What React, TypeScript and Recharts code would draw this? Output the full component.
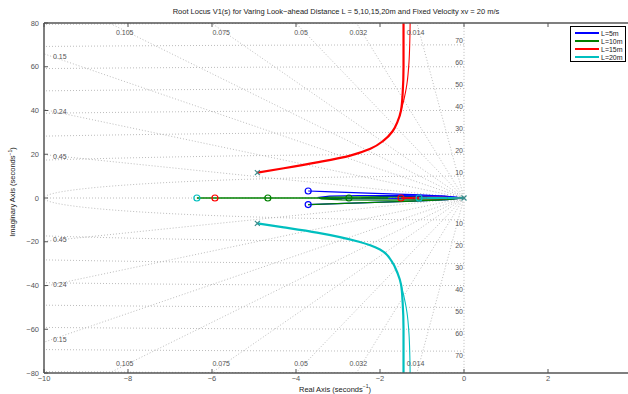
import { ComposedChart, Line, Scatter, XAxis, YAxis } from "recharts";

// ── Axes ────────────────────────────────────────────────────────────────────
const xTicks = [-10, -8, -6, -4, -2, 0, 2];
const yTicks = [-80, -60, -40, -20, 0, 20, 40, 60, 80];

// ── sgrid values ────────────────────────────────────────────────────────────
const zetas = [0.014, 0.032, 0.05, 0.075, 0.105, 0.15, 0.24, 0.45];
const topZetaLabels = [0.014, 0.032, 0.05, 0.075, 0.105];
const sideZetaLabels = [0.15, 0.24, 0.45];
const wns = [10, 20, 30, 40, 50, 60, 70, 80];
const wnLabels = [10, 20, 30, 40, 50, 60, 70];

// ── Root locus branches [re, im] ───────────────────────────────────────────
const redUpper = [[-4.92, 11.6], [-4.29, 13.6], [-3.5, 16.3], [-2.71, 19.4], [-2.23, 22.5], [-1.91, 26.3], [-1.7, 30.5], [-1.58, 35], [-1.5, 40], [-1.46, 48], [-1.44, 60], [-1.44, 85]];
const redUpperB = [[-1.5, 40], [-1.43, 45], [-1.36, 52], [-1.31, 62], [-1.29, 72], [-1.28, 85]];
const cyanLower = [[-1.44, -85], [-1.44, -60], [-1.46, -48], [-1.5, -39.5], [-1.58, -34.5], [-1.72, -29], [-2.0, -23.5], [-2.5, -20], [-3.5, -15.8], [-4.29, -13.4], [-4.92, -11.6]];
const cyanLowerB = [[-1.28, -85], [-1.29, -72], [-1.31, -62], [-1.36, -52], [-1.43, -45], [-1.5, -39.5]];
const blueUpper = [[-3.71, 3.2], [-3.3, 2.9], [-2.3, 2.2], [-1.04, 1.45], [-0.4, 0.8], [0, 0]];
const blueLower = [[-3.71, -3.0], [-3.2, -2.7], [-2.3, -2.1], [-1.2, -1.4], [-0.4, -0.7], [0, 0]];
const blueLoop = [[0, 0], [-0.5, 0.9], [-1.5, 1.15], [-2.5, 1.15], [-3.2, 0.9], [-3.45, 0.3], [-3.4, -0.2], [-2.5, -0.35], [-1.2, -0.3], [0, 0]];
const blueInner = [[-2.45, 0], [-2.0, 0.6], [-1.0, 0.6], [0, 0]];
const greenLower = [[-3.71, -3.0], [-3.2, -2.7], [-2.3, -2.1], [-1.2, -1.4], [-0.4, -0.7], [0, 0]];
const greenLoop = [[0, 0], [-0.6, -0.7], [-1.8, -0.95], [-2.9, -0.85], [-3.4, -0.4], [-3.45, 0], [-3.2, 0.4], [-2.2, 0.5], [-1.0, 0.35], [0, 0]];
const greenReal = [[-6.36, 0], [-1.8, 0]];
const redLoop = [[0, 0], [-0.5, 0.35], [-1.2, 0.3], [-1.5, 0], [-1.2, -0.3], [-0.5, -0.35], [0, 0]];
const cyanLoop = [[0, 0], [-0.4, 0.25], [-0.9, 0.2], [-1.07, 0], [-0.9, -0.2], [-0.4, -0.25], [0, 0]];

// ── Zeros and poles ─────────────────────────────────────────────────────────
const blueZeros = [[-3.71, 3.2], [-3.71, -3.0]];
const greenZeros = [[-4.67, 0], [-2.74, 0]];
const redZeros = [[-5.93, 0], [-1.5, 0]];
const cyanZeros = [[-6.36, 0], [-1.07, 0]];
const poles = [[-4.92, 11.6], [-4.92, -11.6], [0, 0]];

const legendItems = [
  { name: "L=5m", color: "#0000ff" },
  { name: "L=10m", color: "#008000" },
  { name: "L=15m", color: "#ff0000" },
  { name: "L=20m", color: "#00bfbf" },
];

const pts = (arr: number[][]) => arr.map(([x, y]) => ({ x, y }));
const minus = (v: number) => (v < 0 ? `\u2212${Math.abs(v)}` : `${v}`);

// ── Grid geometry built from zeta / wn ─────────────────────────────────────
const R = 140;
const rays = zetas.map((z) => {
  const s = Math.sqrt(1 - z * z);
  return [{ x: -R * z, y: R * s }, { x: 0, y: 0 }, { x: -R * z, y: -R * s }];
});
rays.push([{ x: 0, y: -90 }, { x: 0, y: 90 }]);
rays.push([{ x: -12, y: 0 }, { x: 0, y: 0 }]);

const arcs: { x: number; y: number }[][] = [];
wns.forEach((wn) => {
  const aMax = wn <= 10.5 ? Math.PI / 2 : Math.asin(10.5 / wn);
  [1, -1].forEach((sign) => {
    const a: { x: number; y: number }[] = [];
    for (let i = 0; i <= 40; i++) {
      const t = (aMax * i) / 40;
      a.push({ x: -wn * Math.sin(t), y: sign * wn * Math.cos(t) });
    }
    arcs.push(a);
  });
});

const topLabelY = 75.6;
const zetaLabels = [
  ...topZetaLabels.flatMap((z) => {
    const x = (-topLabelY * z) / Math.sqrt(1 - z * z);
    return [
      { x, y: topLabelY, t: `${z}`, kind: "top" },
      { x, y: -topLabelY, t: `${z}`, kind: "top" },
    ];
  }),
  ...sideZetaLabels.flatMap((z) => {
    const y = (10 * Math.sqrt(1 - z * z)) / z;
    return [
      { x: -10, y: y - 1, t: `${z}`, kind: "side" },
      { x: -10, y: -y + 1, t: `${z}`, kind: "side" },
    ];
  }),
  ...wnLabels.flatMap((w) => [
    { x: 0, y: w, t: `${w}`, kind: "wnUp" },
    { x: 0, y: -w, t: `${w}`, kind: "wnDown" },
  ]),
];

const FONT = "'Liberation Sans', Arial, Helvetica, sans-serif";
const GRID = "#b4b4b4";
const AXIS = "#555";

// ── Custom shapes ───────────────────────────────────────────────────────────
const ZeroMark = (color: string) => (p: any) => (
  <circle cx={p.cx} cy={p.cy} r={3} fill="none" stroke={color} strokeWidth={1.2} />
);
const PoleMark = (p: any) => (
  <g stroke="#3a8c8c" strokeWidth={1.2}>
    <line x1={p.cx - 2.5} y1={p.cy - 2.5} x2={p.cx + 2.5} y2={p.cy + 2.5} />
    <line x1={p.cx - 2.5} y1={p.cy + 2.5} x2={p.cx + 2.5} y2={p.cy - 2.5} />
  </g>
);
const GridLabel = (p: any) => {
  const d = p.payload;
  const common = { fontSize: 7, fill: "#555", fontFamily: FONT };
  if (d.kind === "top")
    return <text x={p.cx - 4} y={p.cy} textAnchor="middle" dominantBaseline="central" {...common}>{d.t}</text>;
  if (d.kind === "side")
    return <text x={p.cx + 9} y={p.cy} textAnchor="start" dominantBaseline="central" {...common}>{d.t}</text>;
  if (d.kind === "wnUp")
    return <text x={p.cx - 1} y={p.cy - 4} textAnchor="end" dominantBaseline="central" {...common}>{d.t}</text>;
  return <text x={p.cx - 1} y={p.cy + 4} textAnchor="end" dominantBaseline="central" {...common}>{d.t}</text>;
};

const BottomTick = (p: any) => (
  <g>
    <line x1={p.x} x2={p.x} y1={p.y} y2={p.y - 4} stroke={AXIS} strokeWidth={1} />
    <text x={p.x} y={p.y + 5} textAnchor="middle" dominantBaseline="central" fontSize={7.5} fill="#555" fontFamily={FONT}>
      {minus(p.payload.value)}
    </text>
  </g>
);
const TopTick = (p: any) => (
  <line x1={p.x} x2={p.x} y1={p.y} y2={p.y + 4} stroke={AXIS} strokeWidth={1} />
);
const LeftTick = (p: any) => (
  <g>
    <line x1={p.x} x2={p.x + 4} y1={p.y} y2={p.y} stroke={AXIS} strokeWidth={1} />
    <text x={p.x - 5} y={p.y} textAnchor="end" dominantBaseline="central" fontSize={7.5} fill="#555" fontFamily={FONT}>
      {minus(p.payload.value)}
    </text>
  </g>
);

type Curve = "linear" | "monotoneY";
const series: { data: number[][]; color: string; w: number; curve: Curve }[] = [
  { data: blueUpper, color: "#0000ff", w: 1.2, curve: "linear" },
  { data: blueLower, color: "#0000ff", w: 1.2, curve: "linear" },
  { data: blueLoop, color: "#0000ff", w: 1.2, curve: "linear" },
  { data: blueInner, color: "#0000ff", w: 1.2, curve: "linear" },
  { data: greenLower, color: "#008000", w: 1.2, curve: "linear" },
  { data: greenLoop, color: "#008000", w: 1.2, curve: "linear" },
  { data: greenReal, color: "#008000", w: 1.5, curve: "linear" },
  { data: redUpper, color: "#ff0000", w: 2.2, curve: "monotoneY" },
  { data: redUpperB, color: "#ff0000", w: 1.1, curve: "monotoneY" },
  { data: redLoop, color: "#ff0000", w: 1, curve: "linear" },
  { data: cyanLower, color: "#00bfbf", w: 2.2, curve: "monotoneY" },
  { data: cyanLowerB, color: "#00bfbf", w: 1.1, curve: "monotoneY" },
  { data: cyanLoop, color: "#00bfbf", w: 1, curve: "linear" },
];

export default function App() {
  return (
    <div style={{ position: "absolute", left: 0, top: 0, width: 628, height: 394, overflow: "hidden", background: "#fff", fontFamily: FONT }}>
      <ComposedChart width={640} height={394} margin={{ top: 0, right: 8, bottom: 0, left: 0 }}>
        <XAxis
          type="number"
          dataKey="x"
          domain={[-10, 4]}
          ticks={xTicks}
          allowDataOverflow
          height={21}
          tickSize={0}
          tickMargin={0}
          tick={BottomTick}
          tickLine={false}
          axisLine={{ stroke: AXIS, strokeWidth: 1.5 }}
        />
        <XAxis
          xAxisId="top"
          orientation="top"
          type="number"
          dataKey="x"
          domain={[-10, 4]}
          ticks={xTicks}
          allowDataOverflow
          height={23}
          tickSize={0}
          tickMargin={0}
          tick={TopTick}
          tickLine={false}
          axisLine={{ stroke: AXIS, strokeWidth: 1.5 }}
        />
        <YAxis
          type="number"
          dataKey="y"
          domain={[-80, 80]}
          ticks={yTicks}
          allowDataOverflow
          width={44}
          tickSize={0}
          tickMargin={0}
          tick={LeftTick}
          tickLine={false}
          axisLine={{ stroke: AXIS, strokeWidth: 1.5 }}
        />
        {rays.map((r, i) => (
          <Line key={`ray${i}`} data={r} dataKey="y" type="linear" stroke={GRID} strokeWidth={0.9} strokeDasharray="1 2" dot={false} isAnimationActive={false} />
        ))}
        {arcs.map((a, i) => (
          <Line key={`arc${i}`} data={a} dataKey="y" type="linear" stroke={GRID} strokeWidth={0.9} strokeDasharray="1 2" dot={false} isAnimationActive={false} />
        ))}
        <Scatter data={zetaLabels} dataKey="y" shape={GridLabel} isAnimationActive={false} />
        {series.map((s, i) => (
          <Line key={`s${i}`} data={pts(s.data)} dataKey="y" type={s.curve} stroke={s.color} strokeWidth={s.w} dot={false} isAnimationActive={false} />
        ))}
        <Scatter data={pts(blueZeros)} dataKey="y" shape={ZeroMark("#0000ff")} isAnimationActive={false} />
        <Scatter data={pts(greenZeros)} dataKey="y" shape={ZeroMark("#008000")} isAnimationActive={false} />
        <Scatter data={pts(redZeros)} dataKey="y" shape={ZeroMark("#ff0000")} isAnimationActive={false} />
        <Scatter data={pts(cyanZeros)} dataKey="y" shape={ZeroMark("#00bfbf")} isAnimationActive={false} />
        <Scatter data={pts(poles)} dataKey="y" shape={PoleMark} isAnimationActive={false} />
      </ComposedChart>

      <div style={{ position: "absolute", left: 336, top: 7, transform: "translateX(-50%)", whiteSpace: "nowrap", fontSize: 7.5, color: "#222" }}>
        Root Locus V1(s) for Varing Look−ahead Distance L = 5,10,15,20m and Fixed Velocity xv = 20 m/s
      </div>
      <div style={{ position: "absolute", left: 335, top: 383, transform: "translateX(-50%)", whiteSpace: "nowrap", fontSize: 7.5, color: "#222" }}>
        Real Axis (seconds<sup style={{ fontSize: 5 }}>−1</sup>)
      </div>
      <div style={{ position: "absolute", left: 12, top: 192, transform: "translate(-50%, -50%) rotate(-90deg)", whiteSpace: "nowrap", fontSize: 7.5, color: "#222" }}>
        Imaginary Axis (seconds<sup style={{ fontSize: 5 }}>−1</sup>)
      </div>

      <div style={{ position: "absolute", left: 570, top: 26, width: 56, height: 36, border: "1px solid #000", background: "#fff", boxSizing: "border-box", paddingTop: 2 }}>
        {legendItems.map((it) => (
          <div key={it.name} style={{ display: "flex", alignItems: "center", height: 8, fontSize: 7, color: "#222" }}>
            <span style={{ display: "inline-block", width: 24, height: 1.5, marginLeft: 4, marginRight: 2, background: it.color }} />
            {it.name}
          </div>
        ))}
      </div>
    </div>
  );
}
